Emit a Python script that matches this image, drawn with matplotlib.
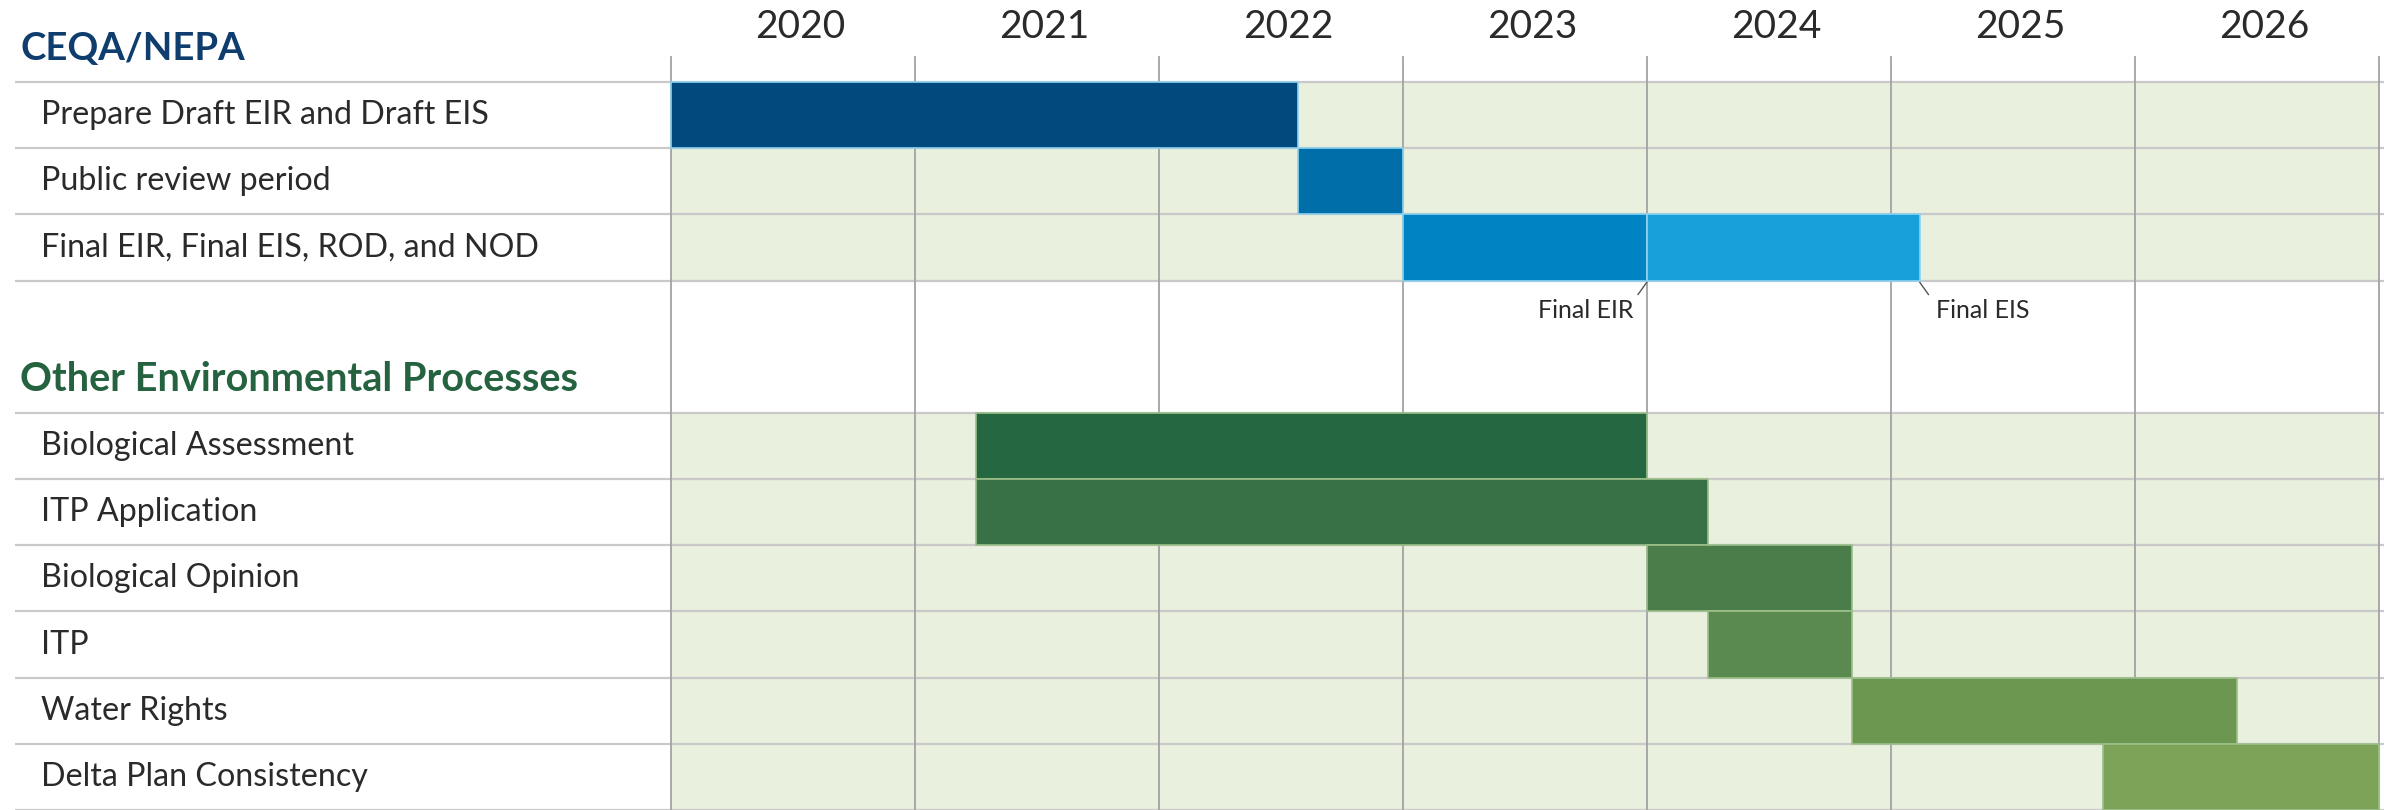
import matplotlib
matplotlib.use("Agg")
import matplotlib.pyplot as plt
import matplotlib.transforms as mtransforms

plt.rcParams['font.family'] = ['Lato', 'DejaVu Sans']

# ---- data ----
years = [2020, 2021, 2022, 2023, 2024, 2025, 2026]

ceqa_tasks = ["Prepare Draft EIR and Draft EIS",
              "Public review period",
              "Final EIR, Final EIS, ROD, and NOD"]
# segments (row index into ceqa_tasks, start, end)
ceqa_rows = [0, 1, 2, 2]
ceqa_start = [2020.0, 2022.57, 2023.0, 2024.0]
ceqa_end = [2022.57, 2023.0, 2024.0, 2025.12]
ceqa_colors = ["#004a7e", "#006ea8", "#0083c3", "#18a0db"]

env_tasks = ["Biological Assessment", "ITP Application", "Biological Opinion",
             "ITP", "Water Rights", "Delta Plan Consistency"]
env_start = [2021.25, 2021.25, 2024.0, 2024.25, 2024.84, 2025.87]
env_end = [2024.0, 2024.25, 2024.84, 2024.84, 2026.42, 2027.0]
env_colors = ["#246741", "#397147", "#4a7d4a", "#5b8a50", "#6b9750", "#7ca358"]

milestones = ["Final EIR", "Final EIS"]
milestone_x = [2024.0, 2025.12]

# ---- layout (pixels of a 2384x810 picture) ----
W, H = 2384, 810
x0_px, year_px = 670.6, 244.0
top_px = 82.0
n_rows = 11
row_px = (H - top_px) / n_rows

fig = plt.figure(figsize=(W / 100, H / 100), dpi=100)
ax = fig.add_axes([0, 0, 1, 1])
ax.set_xlim(2020 - x0_px / year_px, 2020 + (W - x0_px) / year_px)
ax.set_ylim(n_rows, -top_px / row_px)
ax.axis("off")

trans = mtransforms.blended_transform_factory(ax.transAxes, ax.transData)
x_end = years[-1] + 1

bg = "#e9f0de"
hline_c = "#c9c9c9"
vline_c = "#a3a3a3"
text_c = "#2a2a2a"

ceqa_first = 0
env_first = 5
data_rows = list(range(ceqa_first, ceqa_first + len(ceqa_tasks))) + \
    list(range(env_first, env_first + len(env_tasks)))

# light green cells
for r in data_rows:
    ax.fill_between([years[0], x_end], r, r + 1, color=bg, lw=0, zorder=0)

# horizontal separators
for block_first, n in [(ceqa_first, len(ceqa_tasks)), (env_first, len(env_tasks))]:
    for k in range(n + 1):
        ax.plot([15 / W, 1], [block_first + k] * 2, transform=trans,
                color=hline_c, lw=1.6, zorder=1, solid_capstyle="butt")

# vertical year lines
for yv in years + [x_end]:
    ax.plot([yv, yv], [-(top_px - 57) / row_px, n_rows], color=vline_c,
            lw=1.3, zorder=1)

# year labels
for yv in years:
    ax.text(yv + 0.5 + 0.03, -(top_px - 27) / row_px, str(yv), ha="center",
            va="center", fontsize=28, color=text_c)

# section headers
ax.text(20 / W, -(top_px - 49) / row_px, "CEQA/NEPA", transform=trans,
        fontsize=27.5, fontweight="bold", color="#0f3d6e", va="center")
ax.text(20 / W, env_first - 0.5, "Other Environmental Processes",
        transform=trans, fontsize=28.5, fontweight="bold", color="#25623f",
        va="center")

# row labels
for i, t in enumerate(ceqa_tasks):
    ax.text(41 / W, ceqa_first + i + 0.5, t, transform=trans, fontsize=23.2,
            color=text_c, va="center")
for i, t in enumerate(env_tasks):
    ax.text(41 / W, env_first + i + 0.5, t, transform=trans, fontsize=23.2,
            color=text_c, va="center")

# bars
for r, s, e, c in zip(ceqa_rows, ceqa_start, ceqa_end, ceqa_colors):
    ax.barh(ceqa_first + r + 0.5, e - s, left=s, height=1.0, color=c,
            edgecolor="#8fd2ef", lw=1.2, zorder=3)
for i, (s, e, c) in enumerate(zip(env_start, env_end, env_colors)):
    ax.barh(env_first + i + 0.5, e - s, left=s, height=1.0, color=c,
            edgecolor="#9cbf8a", lw=1.2, zorder=3)

# milestone call-outs under the final row
yb = ceqa_first + len(ceqa_tasks)
dx = 0.035
ax.plot([milestone_x[0], milestone_x[0] - dx], [yb + 0.03, yb + 0.21],
        color="#555555", lw=1.0, zorder=4)
ax.text(milestone_x[0] - dx - 0.02, yb + 0.46, milestones[0], ha="right",
        va="center", fontsize=18, color=text_c)
ax.plot([milestone_x[1], milestone_x[1] + dx], [yb + 0.03, yb + 0.21],
        color="#555555", lw=1.0, zorder=4)
ax.text(milestone_x[1] + dx + 0.03, yb + 0.46, milestones[1], ha="left",
        va="center", fontsize=18, color=text_c)

fig.savefig("out.png", dpi=100, facecolor="white")
